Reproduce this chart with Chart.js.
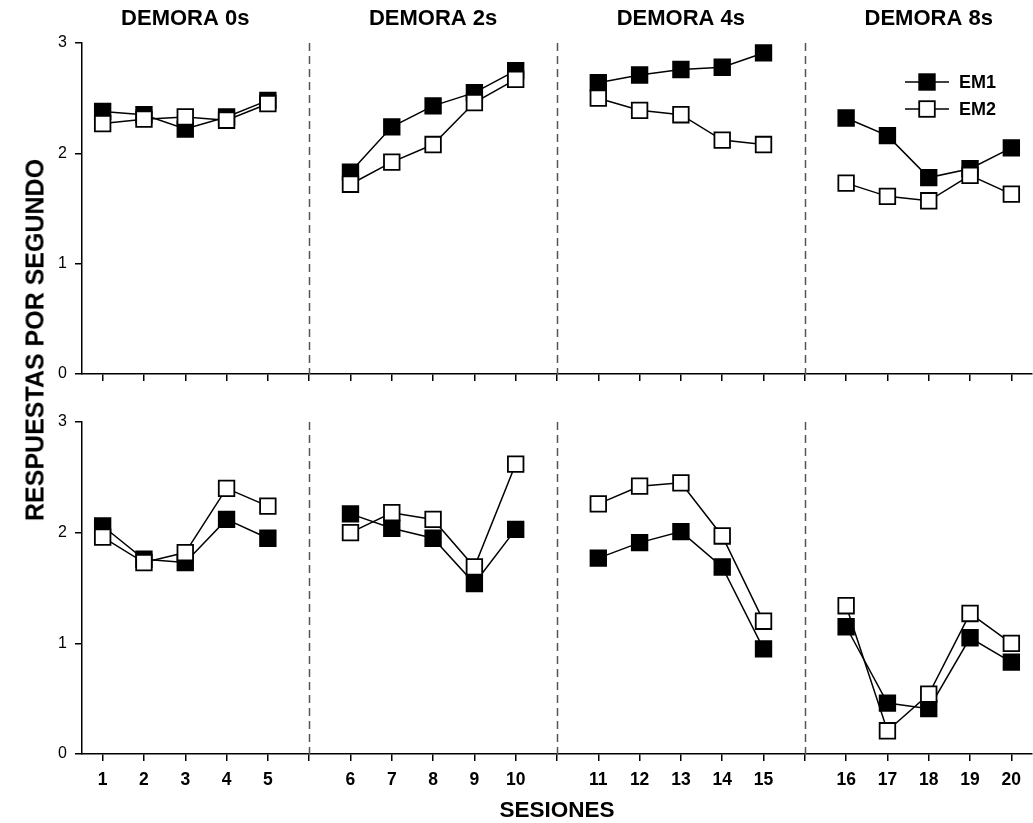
<!DOCTYPE html>
<html>
<head>
<meta charset="utf-8">
<script src="https://cdn.jsdelivr.net/npm/chart.js@4/dist/chart.umd.min.js"></script>
<style>
    body { margin: 0; background: #fff; width: 1033px; height: 823px; position: relative; overflow: hidden;
        font-family: "Liberation Sans", Arial, sans-serif; }
    canvas { position: absolute; left: 0; }
    #arriba { top: 0; }
    #abajo { top: 398px; }
    .ytitle { position: absolute; left: 35px; top: 340px; transform: translate(-50%, -50%) rotate(-90deg);
        white-space: nowrap; font-weight: bold; font-size: 25px; color: #000; }
    .xtitle { position: absolute; left: 557px; top: 810px; transform: translate(-50%, -50%);
        white-space: nowrap; font-weight: bold; font-size: 22.5px; color: #000; }
</style>
</head>
<body>
<canvas id="arriba" width="1033" height="398"></canvas>
<canvas id="abajo" width="1033" height="425"></canvas>
<div class="ytitle">RESPUESTAS POR SEGUNDO</div>
<div class="xtitle">SESIONES</div>
<script>
// datos
const sesiones = [1, 2, 3, 4, 5, 6, 7, 8, 9, 10, 11, 12, 13, 14, 15, 16, 17, 18, 19, 20];
const demoras = ['DEMORA 0s', 'DEMORA 2s', 'DEMORA 4s', 'DEMORA 8s'];
const series = ['EM1', 'EM2'];

const em1Arriba = [2.38, 2.35, 2.22, 2.33, 2.48, 1.83, 2.24, 2.43, 2.55, 2.75,
                   2.64, 2.71, 2.76, 2.78, 2.91, 2.32, 2.16, 1.78, 1.86, 2.05];
const em2Arriba = [2.27, 2.31, 2.33, 2.30, 2.45, 1.72, 1.92, 2.08, 2.46, 2.67,
                   2.50, 2.39, 2.35, 2.12, 2.08, 1.73, 1.61, 1.57, 1.80, 1.63];
const em1Abajo = [2.06, 1.76, 1.73, 2.12, 1.95, 2.17, 2.04, 1.95, 1.54, 2.03,
                  1.77, 1.91, 2.01, 1.69, 0.95, 1.15, 0.46, 0.41, 1.05, 0.83];
const em2Abajo = [1.96, 1.73, 1.82, 2.40, 2.24, 2.00, 2.18, 2.12, 1.69, 2.62,
                  2.26, 2.42, 2.45, 1.97, 1.20, 1.34, 0.21, 0.54, 1.27, 1.00];
const yTicks = [0, 1, 2, 3];

Chart.defaults.font.family = "'Liberation Sans', Arial, sans-serif";
Chart.defaults.color = '#000';

// each block of 5 sessions sits apart, with one empty slot for the dashed divider
const porBloque = 5;
const posDe = (s) => s + Math.floor((s - 1) / porBloque);
const separadores = [1, 2, 3].map(g => g * (porBloque + 1));
const posiciones = [];
for (let p = 1; p <= posDe(sesiones[sesiones.length - 1]); p++) posiciones.push(p);
const etiquetaDe = {};
sesiones.forEach(s => { etiquetaDe[posDe(s)] = String(s); });

function puntos(valores) {
    let out = [];
    sesiones.forEach((s, i) => {
        if (i > 0 && i % porBloque === 0) out.push({ x: posDe(s) - 1, y: null });
        out.push({ x: posDe(s), y: valores[i] });
    });
    return out;
}

function serie(label, valores, relleno, orden) {
    return {
        label: label,
        data: puntos(valores),
        borderColor: '#000',
        borderWidth: 1.5,
        pointStyle: 'rect',
        pointRadius: 11,
        pointBorderWidth: 1.8,
        pointBorderColor: '#000',
        pointBackgroundColor: relleno,
        order: orden,
        tension: 0
    };
}

const divisiones = {
    id: 'divisiones',
    beforeDatasetsDraw(chart) {
        const { ctx, chartArea, scales } = chart;
        ctx.save();
        ctx.strokeStyle = '#555';
        ctx.lineWidth = 1.5;
        ctx.setLineDash([8, 5]);
        separadores.forEach(p => {
            const x = Math.round(scales.x.getPixelForValue(p)) + 0.5;
            ctx.beginPath();
            ctx.moveTo(x, chartArea.top);
            ctx.lineTo(x, chartArea.bottom);
            ctx.stroke();
        });
        ctx.restore();
    }
};

const titulos = {
    id: 'titulos',
    afterDraw(chart) {
        if (chart.canvas.id !== 'arriba') return;
        const { ctx, chartArea, scales } = chart;
        ctx.save();
        ctx.fillStyle = '#000';
        ctx.font = "bold 22px 'Liberation Sans', Arial, sans-serif";
        ctx.textAlign = 'center';
        ctx.textBaseline = 'middle';
        demoras.forEach((d, g) => {
            const centro = (posDe(g * porBloque + 1) + posDe(g * porBloque + porBloque)) / 2;
            ctx.fillText(d, scales.x.getPixelForValue(centro), chartArea.top - 24);
        });

        // leyenda
        const xm = chartArea.right - 105;
        [['#000', 39], ['#fff', 66]].forEach(([relleno, dy], i) => {
            const y = chartArea.top + dy;
            ctx.lineWidth = 1.5;
            ctx.strokeStyle = '#000';
            ctx.beginPath();
            ctx.moveTo(xm - 22, y);
            ctx.lineTo(xm + 22, y);
            ctx.stroke();
            ctx.fillStyle = relleno;
            ctx.fillRect(xm - 7.8, y - 7.8, 15.6, 15.6);
            ctx.lineWidth = 1.8;
            ctx.strokeRect(xm - 7.8, y - 7.8, 15.6, 15.6);
            ctx.fillStyle = '#000';
            ctx.font = "bold 18px 'Liberation Sans', Arial, sans-serif";
            ctx.textAlign = 'left';
            ctx.fillText(series[i], xm + 32, y + 1);
        });
        ctx.restore();
    }
};

function panel(id, em1, em2, arriba) {
    let canvas = document.getElementById(id);
    return new Chart(canvas.getContext('2d'), {
        type: 'line',
        data: {
            datasets: [
                serie(series[0], em1, '#000', 1),
                serie(series[1], em2, '#fff', 0)
            ]
        },
        options: {
            responsive: false,
            animation: false,
            events: [],
            clip: false,
            layout: { autoPadding: false, padding: { top: arriba ? 43 : 24, right: 1, left: 0, bottom: 0 } },
            plugins: { legend: { display: false }, tooltip: { enabled: false } },
            scales: {
                x: {
                    type: 'linear',
                    min: 0.5,
                    max: posiciones[posiciones.length - 1] + 0.5,
                    afterBuildTicks: s => { s.ticks = posiciones.map(v => ({ value: v })); },
                    afterFit: s => {
                        s.height = arriba ? 24 : 69;
                        s.paddingLeft = 0;
                        s.paddingRight = 0;
                    },
                    grid: { drawOnChartArea: false, drawTicks: true, tickLength: 7, color: '#000', lineWidth: 1.5 },
                    border: { display: true, color: '#000', width: 1.5 },
                    ticks: {
                        display: !arriba,
                        autoSkip: false,
                        maxRotation: 0,
                        padding: 9,
                        font: { size: 17.5, weight: 'bold' },
                        callback: v => etiquetaDe[v] || ''
                    }
                },
                y: {
                    min: yTicks[0],
                    max: yTicks[yTicks.length - 1],
                    afterBuildTicks: s => { s.ticks = yTicks.map(v => ({ value: v })); },
                    afterFit: s => {
                        s.width = 82;
                        s.paddingTop = 0;
                        s.paddingBottom = 0;
                    },
                    grid: { drawOnChartArea: false, drawTicks: true, tickLength: 7, color: '#000', lineWidth: 1.5 },
                    border: { display: true, color: '#000', width: 1.5 },
                    ticks: { padding: 8, font: { size: 16 } }
                }
            }
        },
        plugins: [divisiones, titulos]
    });
}

panel('arriba', em1Arriba, em2Arriba, true);
panel('abajo', em1Abajo, em2Abajo, false);
</script>
</body>
</html>
